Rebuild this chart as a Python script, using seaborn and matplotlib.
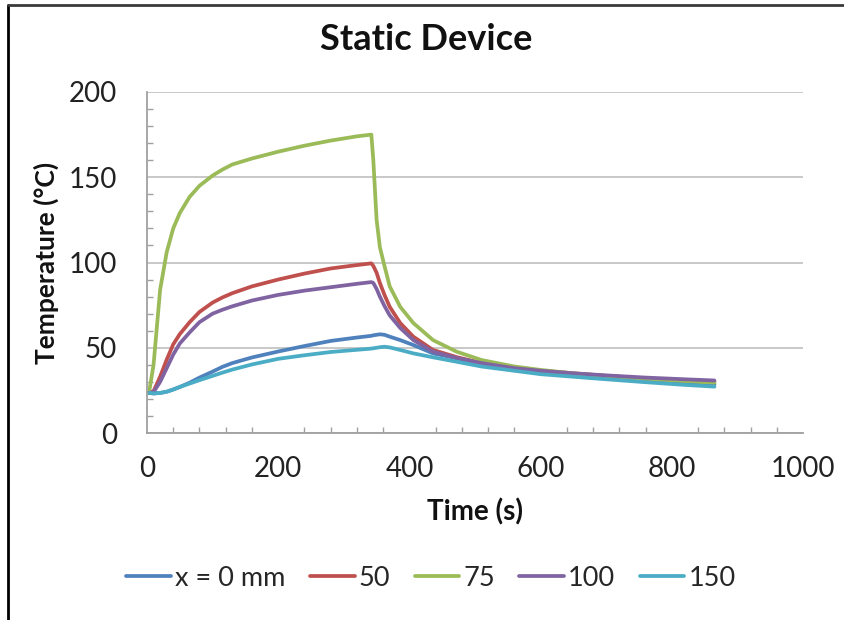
import matplotlib
matplotlib.use("Agg")
import matplotlib.pyplot as plt
from matplotlib.lines import Line2D
from matplotlib.ticker import MultipleLocator
import seaborn as sns
import pandas as pd

# Sample times (s)
time_s = [3, 10, 20, 30, 40, 50, 65, 80, 100, 115, 130, 160, 200, 240, 280, 320,
          342, 345, 350, 355, 362, 370, 386, 406, 436, 472, 510, 560, 600,
          650, 700, 760, 820, 865]

# Temperatures (°C) at each thermocouple position
temp_0mm = [23.5, 23.2, 23.5, 24.2, 25.5, 27, 29.5, 32.5, 36, 38.8, 41, 44.3,
            47.8, 51, 54, 56, 57, 57.3, 57.6, 57.9, 57.6, 56.5, 54.5, 51.6,
            46.7, 43.8, 40.5, 37.5, 35.5, 34, 32.5, 31, 29.5, 28.5]
temp_50mm = [23.5, 24.5, 33, 43, 52, 58, 65, 71, 76.5, 79.5, 82, 86, 90, 93.5,
             96.5, 98.5, 99.5, 98, 94, 88, 81, 74, 64.5, 56.5, 48.7, 44.5, 41,
             38, 36.5, 35, 33.5, 32, 30.8, 30]
temp_75mm = [23.5, 40, 84, 106, 120, 129, 138.5, 145, 151, 154.5, 157.5, 161,
             165, 168.5, 171.5, 174, 175, 160, 125, 109, 98, 86, 74, 64.5,
             54.5, 47.7, 42.8, 39, 37, 35, 33.5, 31.8, 30.5, 29.5]
temp_100mm = [23.5, 24, 30, 38, 46, 52.5, 59, 65, 70, 72.3, 74.3, 77.7, 81,
              83.5, 85.5, 87.5, 88.5, 88, 84.5, 80, 74.5, 69, 61.6, 54.5, 47.7,
              44, 41, 38, 36.5, 35, 33.8, 32.5, 31.5, 30.8]
temp_150mm = [23.5, 23.2, 23.5, 24.2, 25.5, 27, 29, 31, 33.5, 35.4, 37.2, 40.2,
              43.5, 45.6, 47.5, 48.8, 49.5, 49.7, 50, 50.3, 50.6, 50.2, 48.7,
              46.7, 44.4, 41.8, 39, 36.5, 34.5, 33, 31.5, 29.8, 28.2, 27.2]

series_labels = ["x = 0 mm", "50", "75", "100", "150"]
series_values = [temp_0mm, temp_50mm, temp_75mm, temp_100mm, temp_150mm]
series_colors = ["#4F81BD", "#C0504D", "#9BBB59", "#8064A2", "#4BACC6"]

frames = [pd.DataFrame({"Time": time_s, "Temperature": vals, "Position": lab})
          for lab, vals in zip(series_labels, series_values)]
df = pd.concat(frames, ignore_index=True)

sns.set_style("white")
plt.rcParams["font.family"] = ["Lato", "DejaVu Sans"]

fig = plt.figure(figsize=(8.44, 6.2), dpi=100)
ax = fig.add_axes([147 / 844, 1 - 433 / 620, 656 / 844, 341 / 620])

sns.lineplot(data=df, x="Time", y="Temperature", hue="Position",
             hue_order=series_labels, palette=series_colors, linewidth=2.7,
             sort=False, ax=ax, legend=True)
for ln in ax.lines:
    ln.set_solid_joinstyle("round")
    ln.set_solid_capstyle("round")

axis_grey = "#A0A0A0"
ax.set_xlim(0, 1000)
ax.set_ylim(0, 200)
ax.xaxis.set_major_locator(MultipleLocator(200))
ax.xaxis.set_minor_locator(MultipleLocator(40))
ax.yaxis.set_major_locator(MultipleLocator(50))
ax.yaxis.set_minor_locator(MultipleLocator(10))
ax.grid(axis="y", which="major", color="#C4C4C4", linewidth=1.3)
ax.grid(axis="x", visible=False)
ax.set_axisbelow(True)

for side in ["top", "right"]:
    ax.spines[side].set_visible(False)
for side in ["left", "bottom"]:
    ax.spines[side].set_color(axis_grey)
    ax.spines[side].set_linewidth(1.3)

ax.tick_params(axis="x", which="major", direction="inout", length=11,
               width=1.1, color=axis_grey, labelsize=20, pad=11,
               labelcolor="#222222")
ax.tick_params(axis="y", which="major", direction="out", length=7.5,
               width=1.1, color=axis_grey, labelsize=20, pad=14,
               labelcolor="#222222")
ax.tick_params(which="minor", direction="in", length=4.5, width=1.0,
               color=axis_grey, bottom=True, left=True)

ax.set_xlabel("Time (s)", fontsize=20, fontweight="bold", labelpad=12,
              color="#111111")
ax.set_ylabel("Temperature (°C)", fontsize=19, fontweight="bold",
              labelpad=7, color="#111111")

fig.text(0.505, 1 - 40 / 620, "Static Device", ha="center", va="center",
         fontsize=26, fontweight="bold", color="#111111")

handles, labels = ax.get_legend_handles_labels()
ax.legend_.remove()
fig.legend(handles, labels, loc="center", bbox_to_anchor=(431 / 844, 1 - 578 / 620),
           ncol=5, frameon=False, fontsize=19.5, handlelength=1.65,
           handletextpad=0.15, columnspacing=0.9, borderaxespad=0)

# Frame edges on the left and top of the figure
fig.add_artist(Line2D([8 / 844, 8 / 844], [0, 1 - 5 / 620], color="black",
                      linewidth=2.0))
fig.add_artist(Line2D([8 / 844, 1], [1 - 5 / 620, 1 - 5 / 620], color="#3a3a3a",
                      linewidth=2.0))

fig.savefig("out.png", dpi=100)
